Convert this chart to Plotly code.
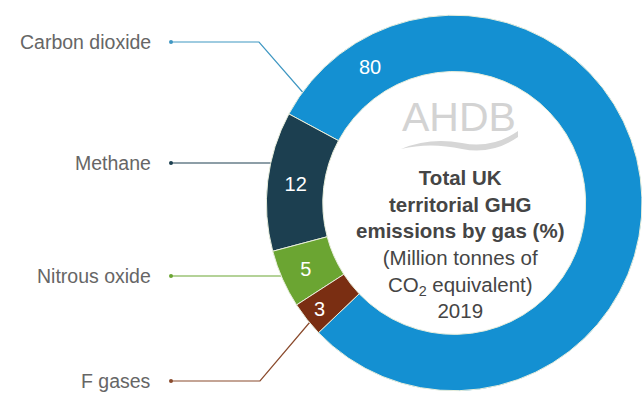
import math
import plotly.graph_objects as go

# ---- data ----
gases = ["Carbon dioxide", "Methane", "Nitrous oxide", "F gases"]
shares = [80, 12, 5, 3]
slice_colors = ["#1490d2", "#1c3f50", "#6ba532", "#7a2e12"]
leader_colors = ["#3f97c2", "#1c3f50", "#6ba532", "#8a4a2c"]
center_title = ["Total UK", "territorial GHG", "emissions by gas (%)"]
center_sub = ["(Million tonnes of", "CO<sub>2</sub> equivalent)", "2019"]
logo_text = "AHDB"

# ---- layout geometry ----
W, H = 642, 396
dom_x = [0.415, 1.0]
dom_y = [0.008, 0.967]
ROT = 298.3
HOLE = 0.70
cx = (dom_x[0] + dom_x[1]) / 2 * W
cy = H * (1 - (dom_y[0] + dom_y[1]) / 2)
R = min((dom_x[1] - dom_x[0]) * W, (dom_y[1] - dom_y[0]) * H) / 2
r_mid = R * (1 + HOLE) / 2


def px(x):
    return x / W


def py(y):
    return 1 - y / H


def polar(angle_deg, r):
    a = math.radians(angle_deg)
    return cx + r * math.sin(a), cy - r * math.cos(a)


FONT = "Liberation Sans, Arial, sans-serif"

fig = go.Figure()
fig.add_trace(go.Pie(
    labels=gases,
    values=shares,
    text=["" if i == 0 else str(v) for i, v in enumerate(shares)],
    textinfo="text",
    textposition="inside",
    insidetextorientation="horizontal",
    textfont=dict(color="white", size=20, family=FONT),
    marker=dict(colors=slice_colors, line=dict(color="#e8eedc", width=1)),
    hole=HOLE,
    sort=False,
    direction="counterclockwise",
    rotation=ROT,
    domain=dict(x=dom_x, y=dom_y),
    showlegend=False,
    hoverinfo="label+value",
))

annotations = []
shapes = []

# label for the large slice, placed near its start edge (30 degrees in)
a80 = ROT + 30
x80, y80 = polar(a80, r_mid)
annotations.append(dict(x=px(x80), y=py(y80), xref="paper", yref="paper",
                        text=str(shares[0]), showarrow=False,
                        xanchor="center", yanchor="middle",
                        font=dict(color="white", size=20, family=FONT)))

# leader lines and labels
label_y = [42, 163, 276, 381]
paths = [
    [(171, 42), (259, 42), (306, 96)],
    [(171, 163), (280, 163)],
    [(171, 276), (290, 276)],
    [(171, 381), (260, 381), (310, 322)],
]
for name, ly, pts, col in zip(gases, label_y, paths, leader_colors):
    d = "M " + " L ".join(f"{px(x):.5f},{py(y):.5f}" for x, y in pts)
    shapes.append(dict(type="path", path=d, xref="paper", yref="paper",
                       line=dict(color=col, width=1.2), layer="below"))
    shapes.append(dict(type="circle", xref="paper", yref="paper",
                       x0=px(169), x1=px(173), y0=py(ly - 2), y1=py(ly + 2),
                       fillcolor=col, line=dict(color=col, width=0)))
    annotations.append(dict(x=px(153), y=py(ly), xref="paper", yref="paper",
                            xanchor="right", yanchor="middle", text=name,
                            showarrow=False,
                            font=dict(color="#666666", size=19.5, family=FONT)))

# centre text
center_text = "<br>".join(f"<b>{t}</b>" for t in center_title) + "<br>" + "<br>".join(center_sub)
annotations.append(dict(x=px(460), y=py(244), xref="paper", yref="paper",
                        text=center_text, showarrow=False, align="center",
                        xanchor="center", yanchor="middle",
                        font=dict(color="#454545", size=20.5, family=FONT)))

# logo
annotations.append(dict(x=px(459), y=py(117), xref="paper", yref="paper",
                        text=logo_text, showarrow=False,
                        xanchor="center", yanchor="middle",
                        font=dict(color="#d3d3d3", size=41, family=FONT)))
sw = [(401, 149), (430, 137), (462, 143), (492, 149), (518, 131),
      (518, 137), (492, 155), (462, 149), (430, 142)]
swp = (f"M {px(sw[0][0])},{py(sw[0][1])} "
       f"Q {px(sw[1][0])},{py(sw[1][1])} {px(sw[2][0])},{py(sw[2][1])} "
       f"Q {px(sw[3][0])},{py(sw[3][1])} {px(sw[4][0])},{py(sw[4][1])} "
       f"L {px(sw[5][0])},{py(sw[5][1])} "
       f"Q {px(sw[6][0])},{py(sw[6][1])} {px(sw[7][0])},{py(sw[7][1])} "
       f"Q {px(sw[8][0])},{py(sw[8][1])} {px(sw[0][0])},{py(sw[0][1])} Z")
shapes.append(dict(type="path", path=swp, xref="paper", yref="paper",
                   fillcolor="#d6d6d6", line=dict(width=0)))

fig.update_layout(
    width=W, height=H,
    margin=dict(l=0, r=0, t=0, b=0),
    paper_bgcolor="white", plot_bgcolor="white",
    showlegend=False,
    annotations=annotations,
    shapes=shapes,
    font=dict(family=FONT),
)

fig.write_html("out.html")
